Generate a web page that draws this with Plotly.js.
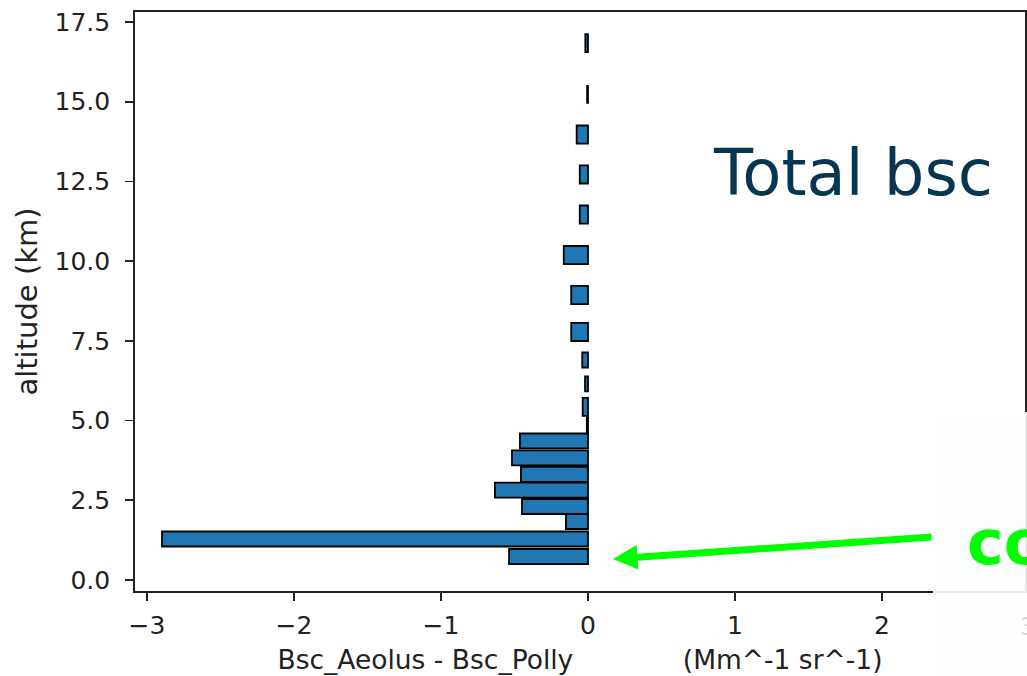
<!DOCTYPE html>
<html>
<head>
<meta charset="utf-8">
<script src="https://cdn.plot.ly/plotly-3.0.1.min.js"></script>
<style>
  html, body { margin: 0; padding: 0; background: #ffffff; overflow: hidden; }
  #chart { width: 1027px; height: 676px; }
</style>
</head>
<body>
<div id="chart"></div>
<script>
// Altitude of each bin centre (km)
const altitudeKm = [16.84, 15.23, 13.97, 12.72, 11.46, 10.19, 8.94, 7.78, 6.90, 6.15,
                    5.43, 4.89, 4.36, 3.83, 3.31, 2.82, 2.305, 1.835, 1.286, 0.737];
// Bsc_Aeolus - Bsc_Polly (Mm^-1 sr^-1)
const bscDifference = [-0.018, -0.006, -0.077, -0.056, -0.056, -0.165, -0.114, -0.114, -0.039, -0.020,
                       -0.036, -0.008, -0.463, -0.517, -0.456, -0.633, -0.449, -0.150, -2.898, -0.537];
// Vertical thickness of each range bin (km)
const binThicknessKm = [0.56, 0.53, 0.57, 0.57, 0.57, 0.57, 0.57, 0.57, 0.47, 0.47,
                        0.57, 0.50, 0.47, 0.47, 0.47, 0.47, 0.47, 0.47, 0.47, 0.47];

const xTickValues = [-3, -2, -1, 0, 1, 2, 3];
const yTickValues = [0, 2.5, 5, 7.5, 10, 12.5, 15, 17.5];

const xLabelMain = "Bsc_Aeolus - Bsc_Polly";
const xLabelUnits = "(Mm^-1 sr^-1)";
const overlayTitle = "Total bsc";
const overlayNote = "co";

const FONT = "DejaVu Sans, Verdana, sans-serif";
const AXIS_COLOR = "#222222";

const trace = {
  type: "bar",
  orientation: "h",
  y: altitudeKm,
  x: bscDifference,
  width: binThicknessKm,
  marker: { color: "#1f77b4", line: { color: "#000000", width: 1.8 } },
  hoverinfo: "skip"
};

const nbsp = "\u00a0".repeat(13);

const layout = {
  width: 1027,
  height: 676,
  margin: { l: 135, r: 2, t: 12, b: 85, pad: 0 },
  paper_bgcolor: "#ffffff",
  plot_bgcolor: "#ffffff",
  showlegend: false,
  font: { family: FONT, color: AXIS_COLOR },
  xaxis: {
    range: [-3.0816, 2.973],
    tickvals: xTickValues,
    ticks: "outside",
    ticklen: 8,
    tickwidth: 1.6,
    tickcolor: AXIS_COLOR,
    showline: true,
    linecolor: AXIS_COLOR,
    linewidth: 1.8,
    mirror: true,
    showgrid: false,
    zeroline: false,
    ticklabelstandoff: 3,
    tickfont: { family: FONT, size: 25, color: AXIS_COLOR },
    title: { text: xLabelMain + nbsp + xLabelUnits, font: { family: FONT, size: 26.5, color: AXIS_COLOR }, standoff: 12 },
    automargin: false
  },
  yaxis: {
    range: [-0.345, 17.814],
    tickvals: yTickValues,
    tickformat: ".1f",
    ticks: "outside",
    ticklen: 8,
    tickwidth: 1.6,
    tickcolor: AXIS_COLOR,
    showline: true,
    linecolor: AXIS_COLOR,
    linewidth: 1.8,
    mirror: true,
    showgrid: false,
    zeroline: false,
    ticklabelstandoff: 10,
    tickfont: { family: FONT, size: 25, color: AXIS_COLOR },
    title: { text: "altitude (km)", font: { family: FONT, size: 29, color: AXIS_COLOR }, standoff: 8 },
    automargin: false
  },
  shapes: [
    {
      type: "rect", xref: "paper", yref: "paper",
      x0: 0.8966, x1: 1.05, y0: -0.3, y1: 0.309,
      fillcolor: "rgba(253,254,254,0.9)",
      line: { width: 0 },
      layer: "above"
    }
  ],
  annotations: [
    {
      text: overlayTitle, xref: "paper", yref: "paper",
      x: 0.6472, y: 0.7225, xanchor: "left", yanchor: "middle",
      showarrow: false,
      font: { family: FONT, size: 64, color: "#063651" }
    },
    {
      text: overlayNote, xref: "paper", yref: "paper",
      x: 0.9326, y: 0.0846, xanchor: "left", yanchor: "middle",
      showarrow: false,
      font: { family: FONT, size: 62, color: "#00ff00", weight: "bold" }
    },
    {
      text: "", xref: "paper", yref: "paper",
      x: 0.5371, y: 0.0553,
      ax: 320, ay: -22, axref: "pixel", ayref: "pixel",
      showarrow: true, arrowhead: 2, arrowsize: 0.7, arrowwidth: 7,
      arrowcolor: "#00ff00", standoff: 0, startstandoff: 0
    },
    {
      text: "3", xref: "paper", yref: "paper",
      x: 1.0034, y: -0.033, xanchor: "center", yanchor: "top",
      showarrow: false,
      font: { family: FONT, size: 25, color: "#d6d6d6" }
    }
  ]
};

Plotly.newPlot("chart", [trace], layout, { displayModeBar: false, staticPlot: true });
</script>
</body>
</html>
